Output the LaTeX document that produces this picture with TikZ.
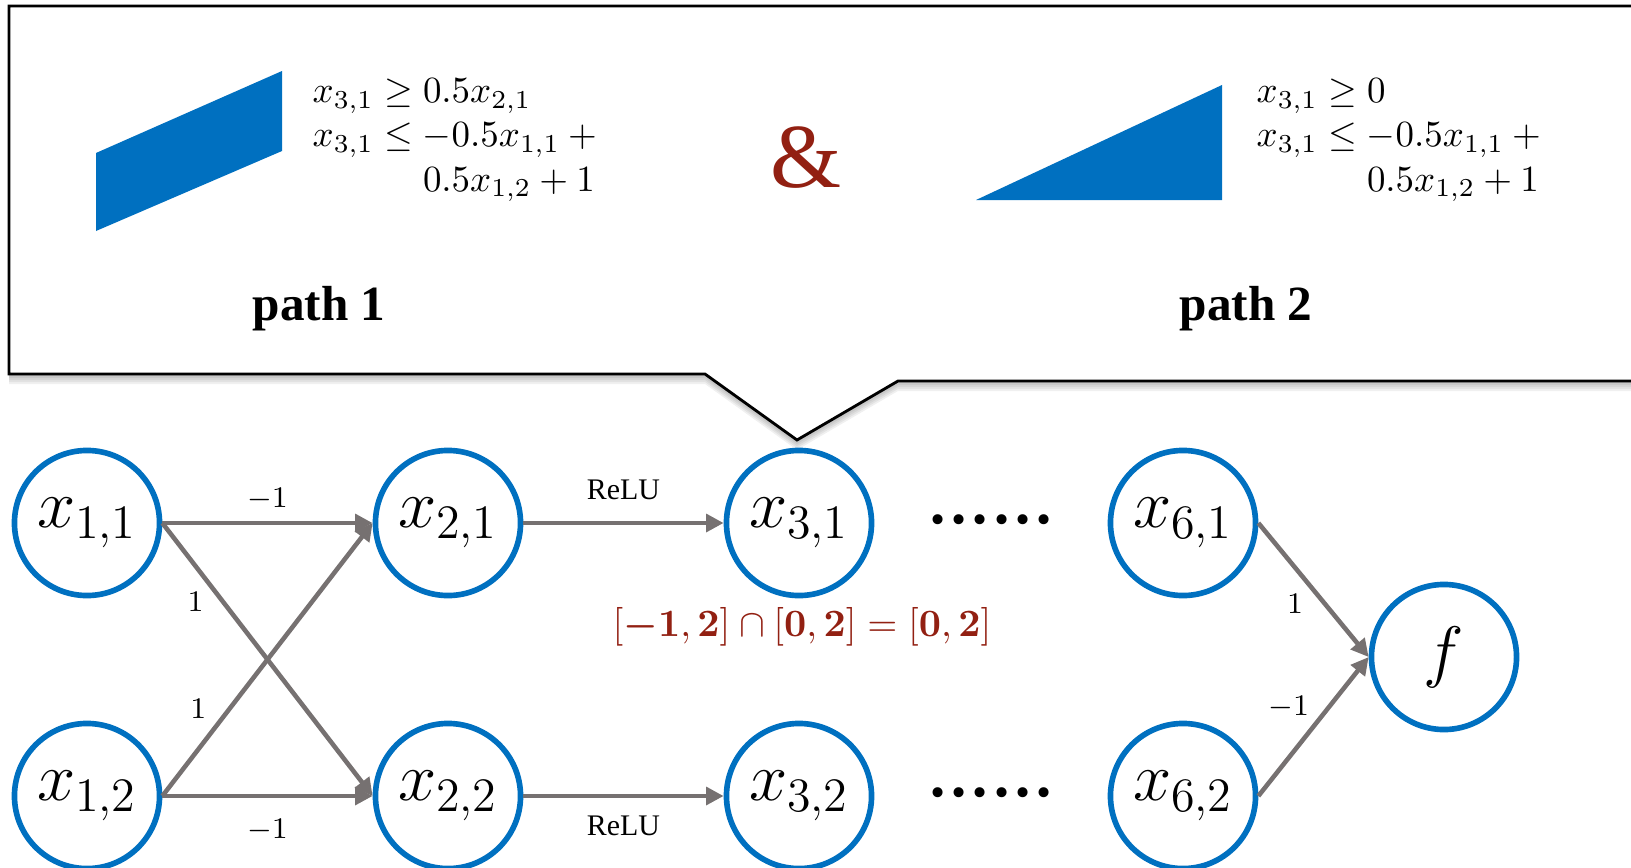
\RequirePackage{fix-cm}
\documentclass[tikz,border=0pt]{standalone}
\usepackage{amsmath}
\usepackage[no-math]{fontspec}
\setmainfont{Liberation Serif}
\usetikzlibrary{arrows.meta}
\definecolor{nodeblue}{RGB}{0,112,192}
\definecolor{edgegray}{RGB}{118,113,113}
\definecolor{boundred}{RGB}{146,32,18}
\tikzset{
  neuron/.style={circle, draw=nodeblue, fill=white, line width=1.6pt,
    minimum size=1.45cm, inner sep=0pt, font=\fontsize{19.5}{19.5}\selectfont},
  wire/.style={draw=edgegray, line width=1.3pt,
    -{Triangle[length=5pt,width=5pt]}},
  wlabel/.style={font=\fontsize{8.5}{10}\selectfont, inner sep=2pt},
  ineq/.style={font=\fontsize{10.5}{12.6}\selectfont, anchor=west, inner sep=0pt},
  pathname/.style={font=\fontsize{14}{16}\selectfont\bfseries},
  dotrow/.style={font=\fontsize{24}{24}\selectfont, inner sep=0pt}
}
\begin{document}
\begin{tikzpicture}[x=0.01cm, y=-0.01cm]
  \useasboundingbox (0,0) rectangle (1631,867);
  \clip (0,0) rectangle (1631,867);

  % callout with soft shadow
  \foreach \s in {2,4,6,8,10} {
    \fill[black, opacity=0.06, shift={(0,\s)}]
      (9,6) -- (1660,6) -- (1660,381) -- (898,381) -- (797,440)
      -- (705,374) -- (9,374) -- cycle;
  }
  \filldraw[fill=white, draw=black, line width=0.8pt]
    (9,6) -- (1660,6) -- (1660,381) -- (898,381) -- (797,440)
    -- (705,374) -- (9,374) -- cycle;

  % the two regions
  \fill[nodeblue] (96,153) -- (282,71) -- (282,151) -- (96,231) -- cycle;
  \fill[nodeblue] (976,200) -- (1222,85) -- (1222,200) -- cycle;

  \node[ineq] (ineq1) at (312,138) {$\begin{array}{@{}r@{}l@{}}
      x_{3,1} \geq{} & 0.5x_{2,1}\\
      x_{3,1} \leq{} & -0.5x_{1,1} +{}\\
                     & 0.5x_{1,2} + 1
    \end{array}$};
  \node[ineq] (ineq2) at (1256,138) {$\begin{array}{@{}r@{}l@{}}
      x_{3,1} \geq{} & 0\\
      x_{3,1} \leq{} & -0.5x_{1,1} +{}\\
                     & 0.5x_{1,2} + 1
    \end{array}$};
  \node[text=boundred, font=\fontsize{26}{26}\selectfont] (amp) at (806,158) {\&};
  \node[pathname] (path1) at (319,309) {path 1};
  \node[pathname] (path2) at (1246,309) {path 2};

  % network
  \node[neuron] (x11) at (87,523) {$x_{1,1}$};
  \node[neuron] (x12) at (87,796) {$x_{1,2}$};
  \node[neuron] (x21) at (448,523) {$x_{2,1}$};
  \node[neuron] (x22) at (448,796) {$x_{2,2}$};
  \node[neuron] (x31) at (799,523) {$x_{3,1}$};
  \node[neuron] (x32) at (799,796) {$x_{3,2}$};
  \node[neuron] (x61) at (1183,523) {$x_{6,1}$};
  \node[neuron] (x62) at (1183,796) {$x_{6,2}$};
  \node[neuron] (f) at (1444,657) {$f$};

  \node[dotrow] (dots1) at (991,520) {......};
  \node[dotrow] (dots2) at (991,793) {......};

  \draw[wire] (x11.east) -- node[wlabel, above=1pt] (w1) {$-1$} (x21.west);
  \draw[wire] (x11.east) -- node[wlabel, pos=0.29, left=3pt] (w2) {$1$} (x22.west);
  \draw[wire] (x12.east) -- node[wlabel, pos=0.32, left=4pt] (w3) {$1$} (x21.west);
  \draw[wire] (x12.east) -- node[wlabel, below=4pt] (w4) {$-1$} (x22.west);
  \draw[wire] (x21) -- node[wlabel, above=4pt] (r1) {ReLU} (x31);
  \draw[wire] (x22) -- node[wlabel, below=3pt] (r2) {ReLU} (x32);
  \draw[wire] (x61.east) -- node[wlabel, pos=0.6, left=3.5pt] (w5) {$1$} (f.west);
  \draw[wire] (x62.east) -- node[wlabel, pos=0.64, left=3pt] (w6) {$-1$} (f.west);

  \node[text=boundred, font=\fontsize{11}{13}\selectfont] (inter) at (802,627)
    {$[\boldsymbol{-1},\boldsymbol{2}]\cap[\boldsymbol{0},\boldsymbol{2}]
      =[\boldsymbol{0},\boldsymbol{2}]$};
\end{tikzpicture}
\end{document}
